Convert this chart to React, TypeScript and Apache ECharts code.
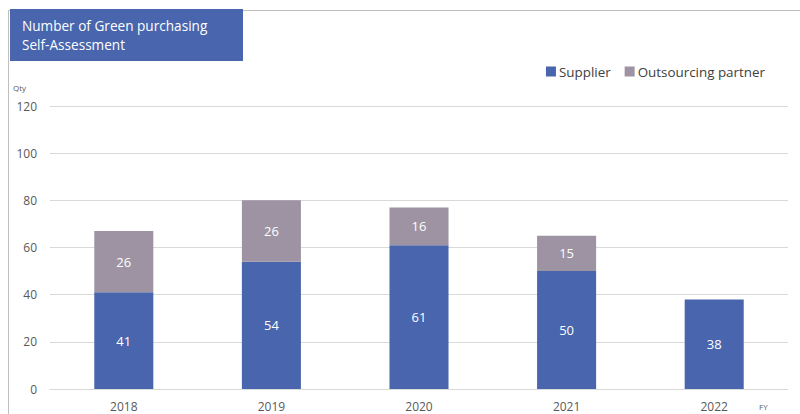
import React, { useEffect, useRef } from "react";
import * as echarts from "echarts";

const categories = ["2018", "2019", "2020", "2021", "2022"];
const supplier = [41, 54, 61, 50, 38];
const outsourcing: (number | null)[] = [26, 26, 16, 15, null];
const yTicks = [0, 20, 40, 60, 80, 100, 120];

const FONT = "'Open Sans', 'Noto Sans', sans-serif";

export default function App() {
  const ref = useRef<HTMLDivElement>(null);
  useEffect(() => {
    if (!ref.current) return;
    const chart = echarts.init(ref.current, null, { renderer: "svg" });
    chart.setOption({
      animation: false,
      textStyle: { fontFamily: FONT },
      grid: { left: 50, right: 12, top: 106, bottom: 25, containLabel: false },
      legend: {
        right: 30,
        top: 60,
        itemWidth: 10,
        itemHeight: 10,
        itemGap: 14,
        itemStyle: {},
        icon: "rect",
        textStyle: { fontSize: 13.4, color: "#404040", fontFamily: FONT, padding: [0, 0, 0, -2] },
        data: ["Supplier", "Outsourcing partner"],
      },
      graphic: [
        {
          type: "rect",
          shape: { x: 8.5, y: 10.5, width: 800, height: 420 },
          style: { fill: "none", stroke: "#bfbfbf", lineWidth: 1 },
          silent: true,
        },
        {
          type: "rect",
          shape: { x: 10, y: 9, width: 233, height: 52 },
          style: { fill: "#4865ad" },
        },
        {
          type: "text",
          x: 22,
          y: 16,
          style: {
            text: "Number of Green purchasing\nSelf-Assessment",
            fill: "#ffffff",
            fontSize: 13.6,
            lineHeight: 19,
            fontFamily: FONT,
          },
        },
        {
          type: "text",
          x: 13,
          y: 83,
          style: { text: "Qty", fill: "#595959", fontSize: 8, fontFamily: FONT },
        },
        {
          type: "text",
          x: 759,
          y: 402,
          style: { text: "FY", fill: "#595959", fontSize: 8, fontFamily: FONT },
        },
      ],
      xAxis: {
        type: "category",
        data: categories,
        axisLine: { lineStyle: { color: "#d9d9d9" } },
        axisTick: { show: false },
        axisLabel: { color: "#595959", fontSize: 12, margin: 11, fontFamily: FONT },
      },
      yAxis: {
        type: "value",
        min: yTicks[0],
        max: yTicks[yTicks.length - 1],
        interval: 20,
        axisLine: { show: false },
        axisTick: { show: false },
        axisLabel: { color: "#595959", fontSize: 12, margin: 13, fontFamily: FONT },
        splitLine: { lineStyle: { color: "#d9d9d9" } },
      },
      series: [
        {
          name: "Supplier",
          type: "bar",
          stack: "total",
          barWidth: "40%",
          data: supplier,
          itemStyle: { color: "#4865ad" },
          label: { show: true, position: "inside", color: "#ffffff", fontSize: 13, fontFamily: FONT },
        },
        {
          name: "Outsourcing partner",
          type: "bar",
          stack: "total",
          barWidth: "40%",
          data: outsourcing,
          itemStyle: { color: "#9d93a2" },
          label: { show: true, position: "inside", color: "#ffffff", fontSize: 13, fontFamily: FONT },
        },
      ],
    });
    return () => chart.dispose();
  }, []);
  return (
    <div
      ref={ref}
      style={{ position: "absolute", left: 0, top: 0, width: 800, height: 414 }}
    />
  );
}
